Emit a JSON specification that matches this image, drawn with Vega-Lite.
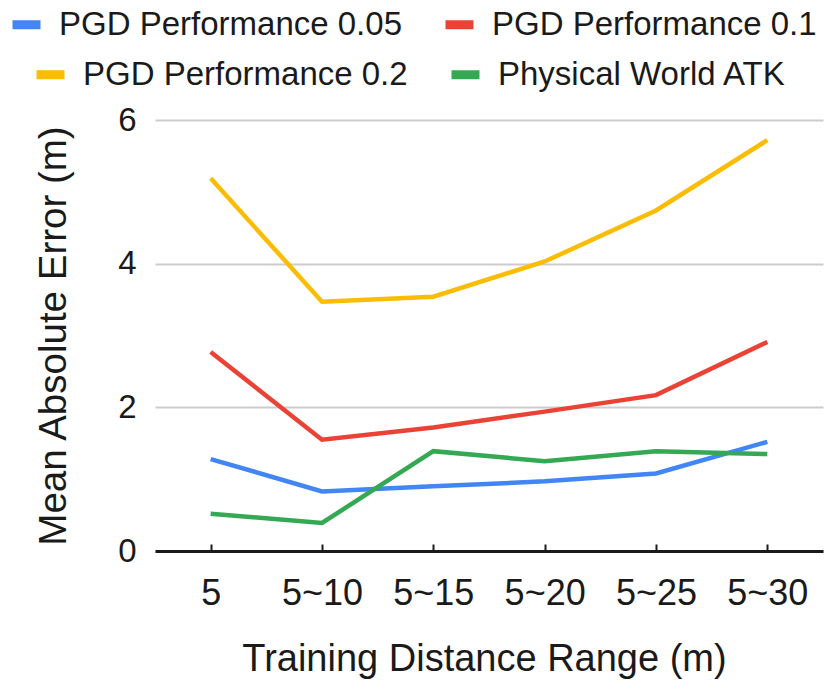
{
  "$schema": "https://vega.github.io/schema/vega-lite/v6.json",
  "width": 668,
  "height": 431,
  "autosize": {"type": "none"},
  "padding": {"left": 155, "top": 120, "right": 9, "bottom": 141},
  "background": "white",
  "data": {
    "values": [
      {"range": "5", "series": "PGD Performance 0.05", "mae": 1.28},
      {"range": "5~10", "series": "PGD Performance 0.05", "mae": 0.83},
      {"range": "5~15", "series": "PGD Performance 0.05", "mae": 0.9},
      {"range": "5~20", "series": "PGD Performance 0.05", "mae": 0.97},
      {"range": "5~25", "series": "PGD Performance 0.05", "mae": 1.08},
      {"range": "5~30", "series": "PGD Performance 0.05", "mae": 1.52},
      {"range": "5", "series": "PGD Performance 0.1", "mae": 2.77},
      {"range": "5~10", "series": "PGD Performance 0.1", "mae": 1.55},
      {"range": "5~15", "series": "PGD Performance 0.1", "mae": 1.72},
      {"range": "5~20", "series": "PGD Performance 0.1", "mae": 1.94},
      {"range": "5~25", "series": "PGD Performance 0.1", "mae": 2.17},
      {"range": "5~30", "series": "PGD Performance 0.1", "mae": 2.91},
      {"range": "5", "series": "PGD Performance 0.2", "mae": 5.19},
      {"range": "5~10", "series": "PGD Performance 0.2", "mae": 3.47},
      {"range": "5~15", "series": "PGD Performance 0.2", "mae": 3.54},
      {"range": "5~20", "series": "PGD Performance 0.2", "mae": 4.03},
      {"range": "5~25", "series": "PGD Performance 0.2", "mae": 4.74},
      {"range": "5~30", "series": "PGD Performance 0.2", "mae": 5.72},
      {"range": "5", "series": "Physical World ATK", "mae": 0.52},
      {"range": "5~10", "series": "Physical World ATK", "mae": 0.39},
      {"range": "5~15", "series": "Physical World ATK", "mae": 1.39},
      {"range": "5~20", "series": "Physical World ATK", "mae": 1.25},
      {"range": "5~25", "series": "Physical World ATK", "mae": 1.39},
      {"range": "5~30", "series": "Physical World ATK", "mae": 1.35}
    ]
  },
  "encoding": {
    "x": {
      "field": "range",
      "type": "ordinal",
      "sort": ["5", "5~10", "5~15", "5~20", "5~25", "5~30"],
      "scale": {"type": "point", "padding": 0.5},
      "axis": {
        "title": "Training Distance Range (m)",
        "labelAngle": 0,
        "labelFontSize": 36,
        "labelPadding": 32,
        "titleFontSize": 38,
        "titlePadding": 29,
        "titleX": 329,
        "domainColor": "#1a1a1a",
        "domainWidth": 3,
        "ticks": true,
        "tickColor": "#1a1a1a",
        "tickWidth": 2,
        "tickSize": -7,
        "grid": false
      }
    },
    "y": {
      "field": "mae",
      "type": "quantitative",
      "scale": {"domain": [0, 6], "nice": false},
      "axis": {
        "title": "Mean Absolute Error (m)",
        "values": [0, 2, 4, 6],
        "labelFontSize": 33,
        "labelPadding": 19,
        "titleFontSize": 38.5,
        "titlePadding": 44,
        "domain": false,
        "ticks": false,
        "tickSize": 0,
        "grid": true,
        "gridColor": "#cccccc",
        "gridWidth": 2
      }
    }
  },
  "layer": [
    {
      "transform": [
        {"filter": {"field": "series", "oneOf": ["PGD Performance 0.05", "PGD Performance 0.1"]}}
      ],
      "mark": {"type": "line", "strokeWidth": 4.5},
      "encoding": {
        "color": {
          "field": "series",
          "type": "nominal",
          "scale": {
            "domain": ["PGD Performance 0.05", "PGD Performance 0.1"],
            "range": ["#4285F4", "#EA4335"]
          },
          "legend": {"legendX": -147, "legendY": -114}
        }
      }
    },
    {
      "transform": [
        {"filter": {"field": "series", "oneOf": ["PGD Performance 0.2", "Physical World ATK"]}}
      ],
      "mark": {"type": "line", "strokeWidth": 4.5},
      "encoding": {
        "color": {
          "field": "series",
          "type": "nominal",
          "scale": {
            "domain": ["PGD Performance 0.2", "Physical World ATK"],
            "range": ["#FBBC04", "#34A853"]
          },
          "legend": {"legendX": -123, "legendY": -64}
        }
      }
    }
  ],
  "resolve": {"scale": {"color": "independent"}},
  "config": {
    "font": "Liberation Sans",
    "view": {"stroke": null},
    "axis": {
      "labelFont": "Liberation Sans",
      "titleFont": "Liberation Sans",
      "labelColor": "#1a1a1a",
      "titleColor": "#1a1a1a",
      "titleFontWeight": "normal"
    },
    "legend": {
      "orient": "none",
      "direction": "horizontal",
      "title": null,
      "labelFont": "Liberation Sans",
      "labelFontSize": 33,
      "labelColor": "#1a1a1a",
      "labelLimit": 600,
      "labelOffset": 14,
      "columnPadding": 25,
      "symbolType": "stroke",
      "symbolSize": 784,
      "symbolStrokeWidth": 9
    }
  }
}
